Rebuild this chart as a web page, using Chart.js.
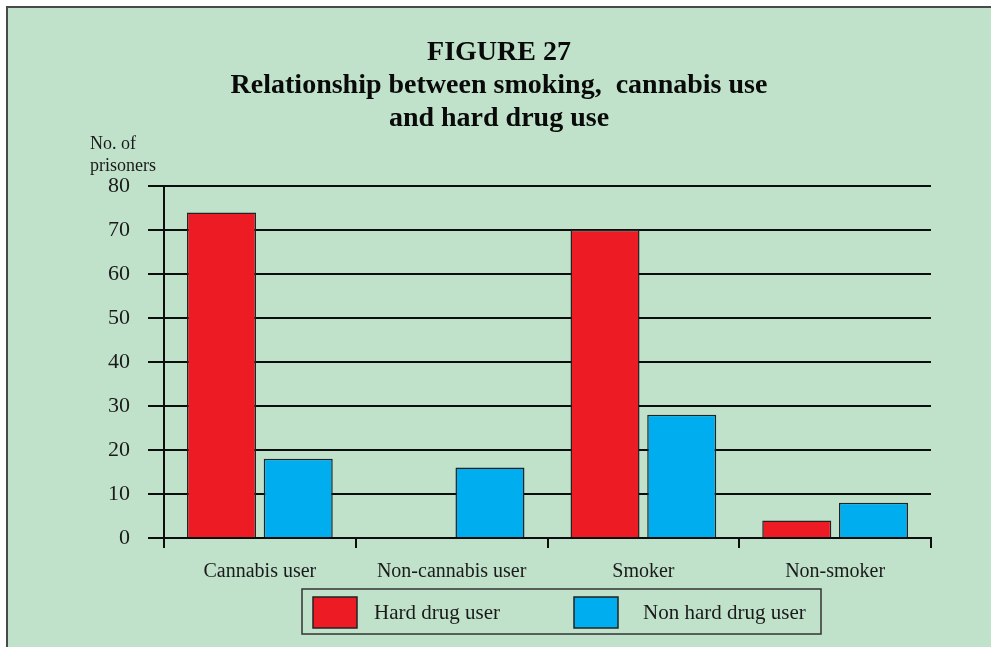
<!DOCTYPE html>
<html>
<head>
<meta charset="utf-8">
<script src="https://cdn.jsdelivr.net/npm/chart.js@4"></script>
<style>
  html, body { margin: 0; padding: 0; background: #ffffff; }
  #wrap { width: 991px; height: 647px; }
</style>
</head>
<body>
<div id="wrap"><canvas id="graphique-figure27" width="991" height="647"></canvas></div>
<script>
// Données
const categories = ["Cannabis user", "Non-cannabis user", "Smoker", "Non-smoker"]
const hardDrugUser = [74, 0, 70, 4]
const nonHardDrugUser = [18, 16, 28, 8]
const seriesLabels = ["Hard drug user", "Non hard drug user"]
const titleLines = ["FIGURE 27", "Relationship between smoking,  cannabis use", "and hard drug use"]
const yLabelLines = ["No. of", "prisoners"]

const fond = "#c0e2cb"
const rouge = "#ed1c24"
const bleu = "#00aeef"
const trait = "#0d0d0d"
const police = "'Liberation Serif', 'Times New Roman', serif"

// Fond vert et cadre
const cadre = {
    id: "cadre",
    beforeDraw(chart) {
        const ctx = chart.ctx
        ctx.save()
        ctx.fillStyle = fond
        ctx.fillRect(7, 8, chart.width - 7, chart.height - 8)
        ctx.strokeStyle = "#4a4a4a"
        ctx.lineWidth = 2
        ctx.beginPath()
        ctx.moveTo(7, chart.height)
        ctx.lineTo(7, 7)
        ctx.lineTo(chart.width, 7)
        ctx.stroke()
        ctx.restore()
    }
}

// Titre de l'axe vertical et légende encadrée
const extras = {
    id: "extras",
    afterDraw(chart) {
        const ctx = chart.ctx
        const area = chart.chartArea
        ctx.save()
        ctx.fillStyle = "#1a1a1a"
        ctx.font = "18px " + police
        ctx.textBaseline = "middle"
        ctx.textAlign = "left"
        ctx.fillText(yLabelLines[0], 90, area.top - 42)
        ctx.fillText(yLabelLines[1], 90, area.top - 20)

        // légende
        const boxLeft = area.left + 138
        const boxTop = area.bottom + 51
        const boxWidth = 519
        const boxHeight = 45
        ctx.strokeStyle = "#333333"
        ctx.lineWidth = 1.5
        ctx.strokeRect(boxLeft, boxTop, boxWidth, boxHeight)

        const offsets = [11, 272]
        chart.data.datasets.forEach((ds, i) => {
            const x = boxLeft + offsets[i]
            const y = boxTop + 8
            ctx.fillStyle = ds.backgroundColor
            ctx.fillRect(x, y, 44, 31)
            ctx.strokeStyle = "#222222"
            ctx.lineWidth = 1.5
            ctx.strokeRect(x, y, 44, 31)
            ctx.fillStyle = "#1a1a1a"
            ctx.font = "21px " + police
            ctx.fillText(ds.label, x + 61 + (i === 1 ? 8 : 0), y + 16)
        })
        ctx.restore()
    }
}

const data = {
    labels: categories,
    datasets: [{
        label: seriesLabels[0],
        data: hardDrugUser,
        backgroundColor: rouge,
        borderColor: "#222222",
        borderWidth: 1.5,
        categoryPercentage: 0.8,
        barPercentage: 0.9
    }, {
        label: seriesLabels[1],
        data: nonHardDrugUser,
        backgroundColor: bleu,
        borderColor: "#222222",
        borderWidth: 1.5,
        categoryPercentage: 0.8,
        barPercentage: 0.9
    }]
}

const config = {
    type: "bar",
    data: data,
    plugins: [cadre, extras],
    options: {
        responsive: false,
        animation: false,
        layout: {
            padding: { left: 67, right: 60, top: 0, bottom: 59 }
        },
        plugins: {
            legend: { display: false },
            tooltip: { enabled: false },
            title: {
                display: true,
                text: titleLines,
                color: "#0a0a0a",
                font: { family: police, size: 28, weight: "bold", lineHeight: 33 / 28 },
                padding: { top: 36, bottom: 51 }
            }
        },
        scales: {
            x: {
                grid: {
                    offset: true,
                    drawOnChartArea: false,
                    color: trait,
                    lineWidth: 2,
                    tickLength: 10
                },
                border: { display: true, color: trait, width: 2 },
                ticks: {
                    color: "#1a1a1a",
                    font: { family: police, size: 20 },
                    padding: 12,
                    maxRotation: 0
                },
                afterFit(scale) { scale.height = 50 }
            },
            y: {
                min: 0,
                max: 80,
                ticks: {
                    stepSize: 10,
                    color: "#1a1a1a",
                    font: { family: police, size: 22 },
                    padding: 18
                },
                grid: {
                    color: trait,
                    lineWidth: 2,
                    tickLength: 16
                },
                border: { display: true, color: trait, width: 2 },
                afterFit(scale) { scale.width = 97 }
            }
        }
    }
}

const graphique = new Chart(document.querySelector("#graphique-figure27"), config)
</script>
</body>
</html>
